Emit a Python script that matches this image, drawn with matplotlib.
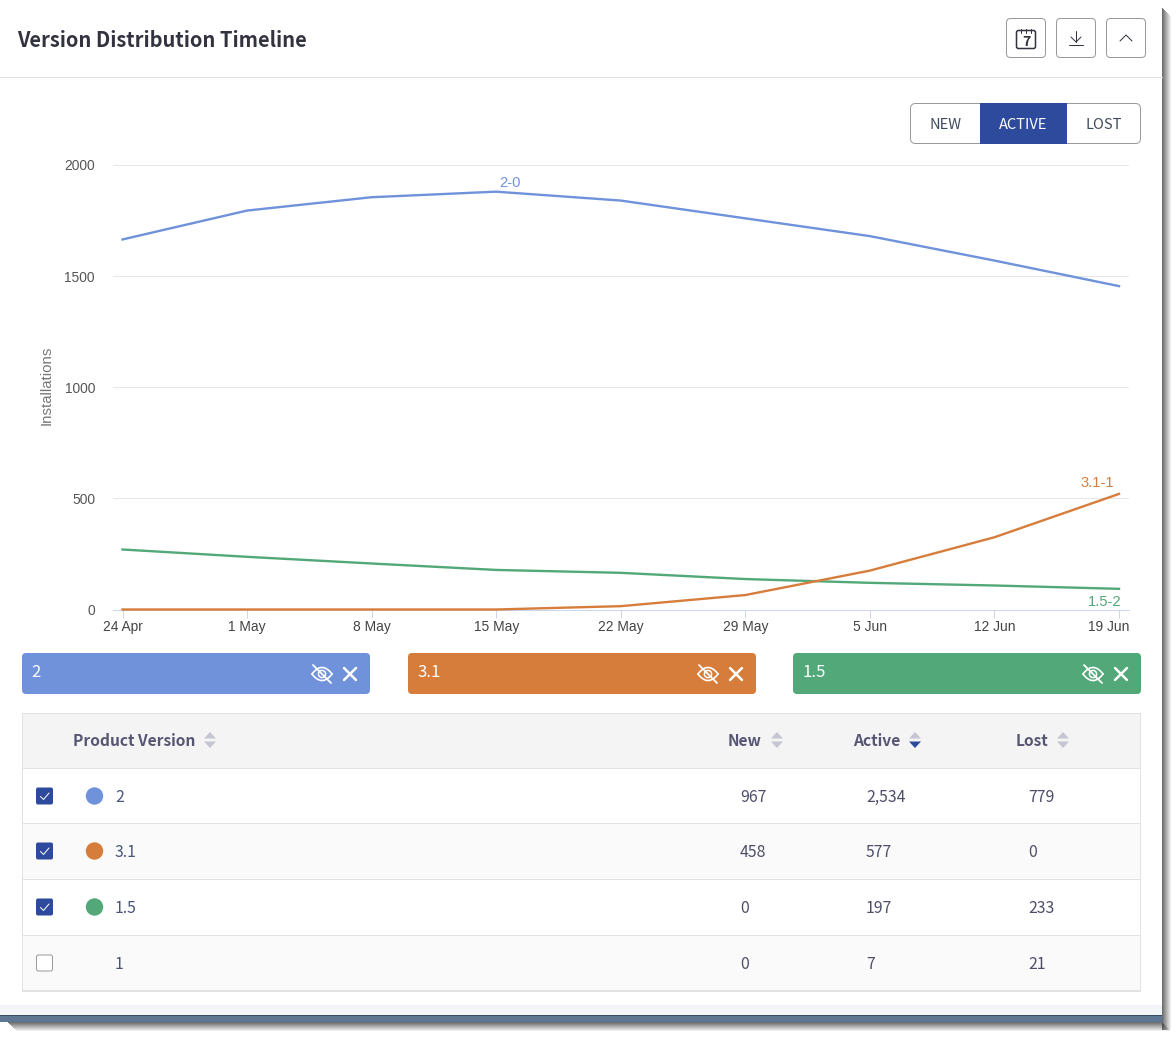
import matplotlib
matplotlib.use("Agg")
import matplotlib.pyplot as plt
from matplotlib.patches import Circle, FancyBboxPatch, Polygon, Rectangle
from matplotlib.transforms import ScaledTranslation
import numpy as np

# ---- dados ----
datas = ["24 Apr", "1 May", "8 May", "15 May", "22 May", "29 May", "5 Jun", "12 Jun", "19 Jun"]
serie_2 = [1665, 1795, 1855, 1880, 1840, 1760, 1680, 1570, 1455]
serie_31 = [0, 0, 0, 0, 15, 65, 175, 325, 520]
serie_15 = [270, 237, 207, 178, 165, 137, 120, 108, 93]
y_ticks = [0, 500, 1000, 1500, 2000]

versoes = ["2", "3.1", "1.5", "1"]
col_new = ["967", "458", "0", "0"]
col_active = ["2,534", "577", "197", "7"]
col_lost = ["779", "0", "233", "21"]
marcados = [True, True, True, False]

AZUL = "#6f92db"
LARANJA = "#d67d3b"
VERDE = "#52a878"
MARINHO = "#2d4a9c"
TEXTO = "#4d4d68"
BORDA = "#e2e2e2"
UI_FONT = ["Noto Sans CJK SC", "DejaVu Sans"]
CHART_FONT = ["Liberation Sans", "DejaVu Sans"]
PX = 0.72  # 1 pixel em pontos

W, H = 1176, 1037
fig = plt.figure(figsize=(W / 100, H / 100), dpi=100, facecolor="white")

# camada da interface, em pixels
ui = fig.add_axes([0, 0, 1, 1], zorder=0)
ui.set_xlim(0, W)
ui.set_ylim(H, 0)
ui.axis("off")


def caixa(x0, y0, x1, y1, cor="white", borda="none", lw=PX, r=3, z=2):
    ui.add_patch(FancyBboxPatch((x0 + r, y0 + r), x1 - x0 - 2 * r, y1 - y0 - 2 * r,
                                boxstyle=f"round,pad={r},rounding_size={r}",
                                fc=cor, ec=borda, lw=lw, zorder=z))


def linha(xs, ys, cor, lw=PX, z=5):
    ui.plot(xs, ys, color=cor, lw=lw, solid_capstyle="round", zorder=z)


def texto_ui(x, y, s, tam=11.4, cor=TEXTO, ha="left", peso="normal", z=5):
    # baseline fixa, para a vírgula de "2,534" não deslocar o texto
    base = y + 0.365 * tam * 100 / 72
    ui.text(x, base, s, fontsize=tam, family=UI_FONT, color=cor, ha=ha, va="baseline",
            fontweight=peso, zorder=z)


# sombra da janela
for i in range(9):
    a = 0.7 * (1 - i / 9)
    ui.add_patch(Rectangle((1162 + i, 8 + i), 1, 1022 - i, fc="#303030", alpha=a, ec="none", zorder=1))
    ui.add_patch(Rectangle((8 + i, 1022 + i), 1154, 1, fc="#303030", alpha=a, ec="none", zorder=1))
ui.add_patch(Rectangle((0, 1015), 1162, 7, fc="#5f7594", ec="none", zorder=1.5))
ui.add_patch(Rectangle((0, 1015), 1162, 1, fc="#3c4a60", ec="none", zorder=1.6))
ui.add_patch(Rectangle((0, 1005), 1162, 10, fc="#f3f4f8", ec="none", zorder=1.5))

# cabeçalho
texto_ui(17, 39.5, "Version Distribution Timeline", tam=14.45, cor="#333340", peso="bold")
linha([0, 1162], [77, 77], "#e0e0e0")
for x0 in (1006.5, 1056.5, 1106.5):
    caixa(x0, 18.5, x0 + 39, 57.5, borda="#9a9a9a", r=4)

# ícone calendário
caixa(1016.5, 30.5, 1035.5, 48.5, cor="white", borda="#333340", lw=1.1, r=2, z=4)
for x in (1021, 1026, 1031):
    linha([x, x], [28.5, 33], "#333340", PX)
texto_ui(1026, 40.5, "7", tam=10, cor="#333340", ha="center", peso="bold", z=6)
# ícone download
linha([1076, 1076], [31, 42], "#333340")
linha([1071, 1076, 1081], [37, 42, 37], "#333340")
linha([1069, 1083], [45, 45], "#333340")
# ícone seta para cima
linha([1120, 1126, 1132], [41, 35, 41], "#333340")

# botões New / Active / Lost
caixa(910.5, 103.5, 1140.5, 143.5, borda="#9a9a9a", r=5)
ui.add_patch(Rectangle((980, 103), 87, 41, fc=MARINHO, ec="none", zorder=3))
for rotulo, x, cor in (("NEW", 945.5, "#3f4a5c"), ("ACTIVE", 1023.5, "white"), ("LOST", 1104, "#3f4a5c")):
    texto_ui(x, 124, rotulo, tam=10.5, cor=cor, ha="center")


# chips das versões
def icone_olho(cx, cy):
    t = np.linspace(-1, 1, 40)
    ui.plot(cx + 10 * t, cy - 6.5 * (1 - t ** 2), color="white", lw=1.2, zorder=6)
    ui.plot(cx + 10 * t, cy + 6.5 * (1 - t ** 2), color="white", lw=1.2, zorder=6)
    ui.add_patch(Circle((cx, cy), 3.6, fc="none", ec="white", lw=1.1, zorder=6))
    linha([cx - 9, cx + 9], [cy - 9, cy + 9], "white", 1.3, z=7)


for nome, x0, x1, cor in zip(versoes[:3], (22, 408, 793), (370, 756, 1141), (AZUL, LARANJA, VERDE)):
    caixa(x0, 653, x1, 694, cor=cor, r=4)
    texto_ui(x0 + 9.5, 671, nome, tam=12, cor="white")
    icone_olho(x1 - 48, 674)
    linha([x1 - 26, x1 - 14], [668, 680], "white", 1.8)
    linha([x1 - 26, x1 - 14], [680, 668], "white", 1.8)

# tabela
ui.add_patch(Rectangle((22, 713), 1118, 55, fc="#f4f4f5", ec="none", zorder=2))
ui.add_patch(Rectangle((22, 824), 1118, 55, fc="#fafafa", ec="none", zorder=2))
ui.add_patch(Rectangle((22, 936), 1118, 55, fc="#fafafa", ec="none", zorder=2))
ui.add_patch(Rectangle((22, 713), 1118, 278, fc="none", ec=BORDA, lw=PX, zorder=3))
for y in (768, 823, 879, 935, 990):
    linha([23, 1139], [y, y], BORDA, z=3)


def setas(cx, cy, baixo_ativo=False):
    ui.add_patch(Polygon([(cx - 6, cy - 1.5), (cx + 6, cy - 1.5), (cx, cy - 8)], fc="#c4c6d2", ec="none", zorder=4))
    cor = MARINHO if baixo_ativo else "#c4c6d2"
    ui.add_patch(Polygon([(cx - 6, cy + 1.5), (cx + 6, cy + 1.5), (cx, cy + 8)], fc=cor, ec="none", zorder=4))


for rotulo, x, sx, ativo in (("Product Version", 73, 210, False), ("New", 728, 777, False),
                             ("Active", 853, 915, True), ("Lost", 1016, 1063, False)):
    texto_ui(x, 740, rotulo, tam=11.2, cor="#565672", peso="bold")
    setas(sx, 740, ativo)

linhas_y = [796, 851, 907, 963]
pontos = [AZUL, LARANJA, VERDE, None]
for i, y in enumerate(linhas_y):
    if marcados[i]:
        caixa(36, y - 8.5, 53, y + 8.5, cor=MARINHO, r=2, z=4)
        linha([40.5, 43.5, 49], [y + 0.5, y + 3.5, y - 3], "white", z=6)
    else:
        caixa(36.5, y - 8, 52.5, y + 8, cor="white", borda="#9a9a9a", r=2, z=4)
    if pontos[i]:
        ui.add_patch(Circle((94.5, y), 8.7, fc=pontos[i], ec="none", zorder=4))
    texto_ui(115, y, versoes[i], cor="#4a5578")
    texto_ui(740, y, col_new[i])
    texto_ui(866, y, col_active[i])
    texto_ui(1028, y, col_lost[i])

# ---- gráfico de linhas ----
x_esq, x_dir, y_top, y_base = 113, 1129, 165, 609.5
ax = fig.add_axes([x_esq / W, 1 - y_base / H, (x_dir - x_esq) / W, (y_base - y_top) / H], zorder=1)
ax.patch.set_alpha(0)
x = np.arange(len(datas))
passo = (1119 - 122.5) / 8
ax.set_xlim((x_esq - 122.5) / passo, (x_dir - 122.5) / passo)
ax.set_ylim(0, 2000)

ax.plot(x, serie_2, color=AZUL, lw=1.7, clip_on=False, zorder=3)
ax.plot(x, serie_15, color=VERDE, lw=1.7, clip_on=False, zorder=3)
ax.plot(x, serie_31, color=LARANJA, lw=1.7, clip_on=False, zorder=4)

ax.set_xticks(x, datas)
ax.set_yticks(y_ticks)
ax.grid(axis="y", color="#e6e6e6", lw=PX)
ax.set_axisbelow(True)
for lado in ("top", "right", "left"):
    ax.spines[lado].set_visible(False)
ax.spines["bottom"].set_color("#ccd6eb")
ax.spines["bottom"].set_linewidth(PX)
ax.tick_params(axis="x", length=6, width=PX, color="#ccd6eb", pad=1.5, labelsize=9.9, labelcolor="#444444")
ax.tick_params(axis="y", length=0, pad=13, labelsize=9.9, labelcolor="#555555")
for rotulo in ax.get_xticklabels() + ax.get_yticklabels():
    rotulo.set_family(CHART_FONT)
# último rótulo encostado na borda direita do eixo
ultimo = ax.get_xticklabels()[-1]
ultimo.set_transform(ultimo.get_transform() + ScaledTranslation(-10 / 100, 0, fig.dpi_scale_trans))
ax.set_ylabel("Installations", fontsize=10.8, color="#777777", family=CHART_FONT, labelpad=8, y=0.505)

# rótulos nas séries
ax.annotate("2-0", (x[3], serie_2[3]), xytext=(14, 2), textcoords="offset pixels", color=AZUL,
            fontsize=10.6, family=CHART_FONT, ha="center", va="bottom")
ax.annotate("3.1-1", (x[8], serie_31[8]), xytext=(-22, 4), textcoords="offset pixels", color=LARANJA,
            fontsize=10.6, family=CHART_FONT, ha="center", va="bottom")
ax.annotate("1.5-2", (x[8], serie_15[8]), xytext=(-14, -6), textcoords="offset pixels", color=VERDE,
            fontsize=10.6, family=CHART_FONT, ha="center", va="top")

fig.savefig("out.png", dpi=100)
